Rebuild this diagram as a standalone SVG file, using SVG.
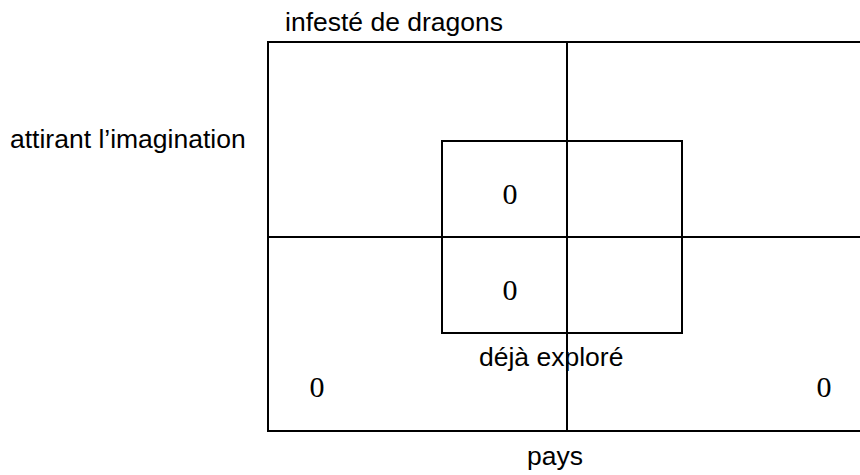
<svg xmlns="http://www.w3.org/2000/svg" width="860" height="475" viewBox="0 0 860 475">
<style>
.ln{fill:none;stroke:#000;stroke-width:2}
.lb{font-family:"Liberation Sans",Arial,sans-serif;font-size:26.5px;fill:#000}
.z{font-family:"Liberation Serif","Times New Roman",serif;font-size:30px;fill:#000}
</style>
<rect width="860" height="475" fill="#fff"/>
<g id="connectors">
<rect class="ln" x="268" y="42" width="620" height="389"/>
<line class="ln" x1="567" y1="42" x2="567" y2="431"/>
<line class="ln" x1="268" y1="237" x2="860" y2="237"/>
</g>
<g id="explored">
<rect class="ln" x="442" y="141" width="240" height="192"/>
<text class="lb" x="479" y="366">déjà exploré</text>
</g>
<g id="labels">
<text class="lb" x="285" y="31">infesté de dragons</text>
<text class="lb" x="10" y="148">attirant l’imagination</text>
<text class="lb" x="527" y="465">pays</text>
</g>
<g id="zeros">
<text class="z" x="510" y="204" text-anchor="middle">0</text>
<text class="z" x="510" y="300" text-anchor="middle">0</text>
<text class="z" x="317" y="397" text-anchor="middle">0</text>
<text class="z" x="824" y="397" text-anchor="middle">0</text>
</g>
</svg>
